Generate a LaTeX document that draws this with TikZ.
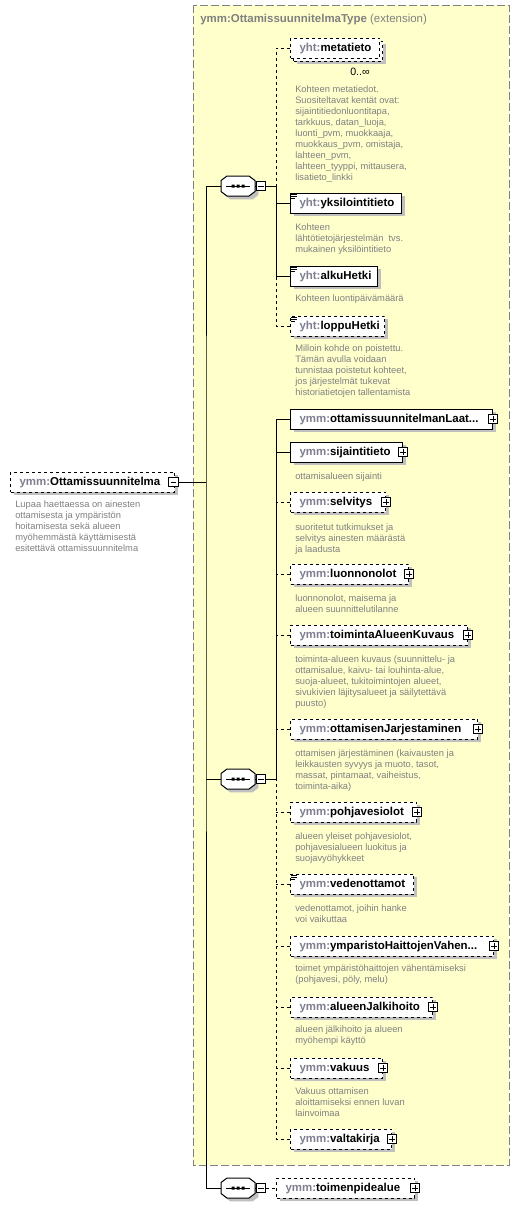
\documentclass[tikz,border=0pt]{standalone}
\usepackage{fontspec}
\setmainfont{Liberation Sans}
\definecolor{extfill}{HTML}{FFFFCC}
\definecolor{extborder}{HTML}{808080}
\definecolor{descgray}{HTML}{808080}
\definecolor{prefgray}{HTML}{7F7F90}
\definecolor{shadowgray}{HTML}{C0C0C0}
\newcommand\lblfont{\fontsize{8.6pt}{10pt}\selectfont\bfseries}
\newcommand\descfont{\fontsize{7pt}{8.25pt}\selectfont}
\newcommand\pfx[1]{\textcolor{prefgray}{#1:}}
\newcommand\desctext[1]{\parbox[t]{70mm}{\raggedright\descfont #1}}
\newcommand\eqicon[1]{\draw[line width=0.6pt] ([xshift=0.9pt,yshift=-1.3pt]#1.north west) -- ++(4.5pt,0) ([xshift=0.9pt,yshift=-2.8pt]#1.north west) -- ++(4.5pt,0) ([xshift=0.9pt,yshift=-4.3pt]#1.north west) -- ++(3pt,0);}
\newcommand\octpath{(-17,-5.5) -- (-11,-10) -- (11,-10) -- (17,-5.5) -- (17,5.5) -- (11,10) -- (-11,10) -- (-17,5.5) -- cycle}
\newcommand\seqshape[1]{%
  \fill[shadowgray, shift={(#1.center)}, xshift=2.6pt, yshift=-2.6pt] \octpath;
  \draw[line width=0.75pt, fill=white, shift={(#1.center)}] \octpath;
  \draw[line width=0.75pt, shift={(#1.center)}] (-12,0) -- (12,0);
  \fill[shift={(#1.center)}] (-6.5,-1.5) rectangle (-3.5,1.5) (-1.5,-1.5) rectangle (1.5,1.5) (3.5,-1.5) rectangle (6.5,1.5);}
\begin{document}
\begin{tikzpicture}[x=0.75pt,y=-0.75pt,
  shadowed/.style={preaction={fill=shadowgray, transform canvas={shift={(#1,-#1)}}}},
  shadowed/.default=2.6pt,
  elcore/.style={draw=black, fill=white, line width=0.75pt, anchor=west,
    minimum height=15pt, inner xsep=6.75pt, inner ysep=0pt, align=left,
    font=\lblfont, text height=6.5pt, text depth=1.5pt},
  reqel/.style={shadowed, elcore},
  optel/.style={shadowed, elcore, dash pattern=on 2.25pt off 2.25pt},
  metael/.style={shadowed=4.85pt,
    preaction={draw=black, fill=white, line width=0.75pt, dash pattern=on 2.25pt off 2.25pt, transform canvas={shift={(2.25pt,-2.25pt)}}},
    elcore, dash pattern=on 2.25pt off 2.25pt},
  descnode/.style={anchor=base west, inner sep=0pt, text=descgray},
  minusbox/.style={draw=black, fill=white, line width=0.75pt, minimum size=7.2pt, inner sep=0pt,
    path picture={\draw[line width=0.75pt] ([xshift=1.4pt]path picture bounding box.west) -- ([xshift=-1.4pt]path picture bounding box.east);}},
  plusbox/.style={draw=black, fill=white, line width=0.75pt, minimum size=7.2pt, inner sep=0pt,
    path picture={\draw[line width=0.75pt] ([xshift=1.4pt]path picture bounding box.west) -- ([xshift=-1.4pt]path picture bounding box.east)
      ([yshift=-1.4pt]path picture bounding box.north) -- ([yshift=1.4pt]path picture bounding box.south);}},
  seqnode/.style={minimum width=25.5pt, minimum height=15pt, inner sep=0pt},
  conn/.style={line width=0.75pt, draw=black},
  optconn/.style={conn, dash pattern=on 2.25pt off 2.25pt},
  extbox/.style={fill=extfill, draw=extborder, line width=0.75pt, dash pattern=on 6pt off 2.25pt}]
\useasboundingbox (0,0) rectangle (520,1208);
\fill[white] (0,0) rectangle (520,1208);
% extension area
\draw[extbox] (193,5) rectangle (509,1165);
\node[anchor=base west, inner sep=0pt, text=descgray, font=\fontsize{8.6pt}{10pt}\selectfont] (title) at (200,22.5) {\textbf{ymm:OttamissuunnitelmaType} (extension)};

% root
\node[optel, text width=109.5pt] (root) at (10,482) {\pfx{ymm}Ottamissuunnitelma};
\node[minusbox] (rootm) at (173.5,482) {};
\node[descnode] (rootd) at (15,507) {\desctext{Lupaa haettaessa on ainesten\\ottamisesta ja ympäristön\\hoitamisesta sekä alueen\\myöhemmästä käyttämisestä\\esitettävä ottamissuunnitelma}};
\coordinate (rootbus) at (206,482);

% sequences
\node[seqnode] (s1) at (238,186) {};
\seqshape{s1}
\node[minusbox] (s1m) at (261,186) {};
\coordinate (s1bus) at (276,186);
\node[seqnode] (s2) at (238,779) {};
\seqshape{s2}
\node[minusbox] (s2m) at (261,779) {};
\coordinate (s2bus) at (276,779);
\node[seqnode] (s3) at (238,1188) {};
\seqshape{s3}
\node[minusbox] (s3m) at (261,1188) {};

% sequence 1 children
\node[metael, text width=53.25pt] (meta) at (290,48) {\pfx{yht}metatieto};
\node[anchor=base, inner sep=0pt, font=\fontsize{8pt}{9pt}\selectfont] (metacard) at (360,75) {0..∞};
\node[descnode] (metad) at (295,92) {\desctext{Kohteen metatiedot.\\Suositeltavat kentät ovat:\\sijaintitiedonluontitapa,\\tarkkuus, datan\_luoja,\\luonti\_pvm, muokkaaja,\\muokkaus\_pvm, omistaja,\\lahteen\_pvm,\\lahteen\_tyyppi, mittausera,\\lisatieto\_linkki}};

\node[reqel, text width=69.75pt] (yksi) at (290,203) {\pfx{yht}yksilointitieto};
\eqicon{yksi}
\node[descnode] (yksid) at (295,230) {\desctext{Kohteen\\lähtötietojärjestelmän~~tvs.\\mukainen yksilöintitieto}};

\node[reqel, text width=51.75pt] (alku) at (290,276) {\pfx{yht}alkuHetki};
\eqicon{alku}
\node[descnode] (alkud) at (295,301) {\desctext{Kohteen luontipäivämäärä}};

\node[optel, text width=57pt] (loppu) at (290,326) {\pfx{yht}loppuHetki};
\eqicon{loppu}
\node[descnode] (loppud) at (295,351) {\desctext{Milloin kohde on poistettu.\\Tämän avulla voidaan\\tunnistaa poistetut kohteet,\\jos järjestelmät tukevat\\historiatietojen tallentamista}};

% sequence 2 children
\node[reqel, text width=138pt] (laat) at (290,419) {\pfx{ymm}ottamissuunnitelmanLaat...};
\node[plusbox] (laatp) at (laat.east) {};

\node[reqel, text width=70.5pt] (sij) at (290,452) {\pfx{ymm}sijaintitieto};
\node[plusbox] (sijp) at (sij.east) {};
\node[descnode] (sijd) at (295,479) {\desctext{ottamisalueen sijainti}};

\node[optel, text width=57.75pt] (selv) at (290,502) {\pfx{ymm}selvitys};
\node[plusbox] (selvp) at (selv.east) {};
\node[descnode] (selvd) at (295,530) {\desctext{suoritetut tutkimukset ja\\selvitys ainesten määrästä\\ja laadusta}};

\node[optel, text width=75pt] (luon) at (290,574) {\pfx{ymm}luonnonolot};
\node[plusbox] (luonp) at (luon.east) {};
\node[descnode] (luond) at (295,601) {\desctext{luonnonolot, maisema ja\\alueen suunnittelutilanne}};

\node[optel, text width=119.25pt] (toim) at (290,635) {\pfx{ymm}toimintaAlueenKuvaus};
\node[plusbox] (toimp) at (toim.east) {};
\node[descnode] (toimd) at (295,662) {\desctext{toiminta-alueen kuvaus (suunnittelu- ja\\ottamisalue, kaivu- tai louhinta-alue,\\suoja-alueet, tukitoimintojen alueet,\\sivukivien läjitysalueet ja säilytettävä\\puusto)}};

\node[optel, text width=126.75pt] (ottj) at (290,729) {\pfx{ymm}ottamisenJarjestaminen};
\node[plusbox] (ottjp) at (ottj.east) {};
\node[descnode] (ottjd) at (295,756) {\desctext{ottamisen järjestäminen (kaivausten ja\\leikkausten syvyys ja muoto, tasot,\\massat, pintamaat, vaiheistus,\\toiminta-aika)}};

\node[optel, text width=81pt] (pohj) at (290,812) {\pfx{ymm}pohjavesiolot};
\node[plusbox] (pohjp) at (pohj.east) {};
\node[descnode] (pohjd) at (295,839) {\desctext{alueen yleiset pohjavesiolot,\\pohjavesialueen luokitus ja\\suojavyöhykkeet}};

\node[optel, text width=78.75pt] (veden) at (290,884) {\pfx{ymm}vedenottamot};
\eqicon{veden}
\node[descnode] (vedend) at (295,911) {\desctext{vedenottamot, joihin hanke\\voi vaikuttaa}};

\node[optel, text width=138.75pt] (ymp) at (290,946) {\pfx{ymm}ymparistoHaittojenVahen...};
\node[plusbox] (ympp) at (ymp.east) {};
\node[descnode] (ympd) at (295,971) {\desctext{toimet ympäristöhaittojen vähentämiseksi\\(pohjavesi, pöly, melu)}};

\node[optel, text width=93pt] (alueen) at (290,1007) {\pfx{ymm}alueenJalkihoito};
\node[plusbox] (alueenp) at (alueen.east) {};
\node[descnode] (alueend) at (295,1032) {\desctext{alueen jälkihoito ja alueen\\myöhempi käyttö}};

\node[optel, text width=55.5pt] (vak) at (290,1068) {\pfx{ymm}vakuus};
\node[plusbox] (vakp) at (vak.east) {};
\node[descnode] (vakd) at (295,1094) {\desctext{Vakuus ottamisen\\aloittamiseksi ennen luvan\\lainvoimaa}};

\node[optel, text width=62.25pt] (valt) at (290,1139) {\pfx{ymm}valtakirja};
\node[plusbox] (valtp) at (valt.east) {};

% sequence 3 child
\node[optel, text width=90pt] (toimpa) at (276,1188) {\pfx{ymm}toimenpidealue};
\node[plusbox] (toimpap) at (toimpa.east) {};

% connectors: root
\draw[conn] (rootm.east) -- (rootbus);
\draw[conn] (s1.west) -| (rootbus) |- (s3.west);
\draw[conn] (s2.west) -- (s2.west -| rootbus);
% sequence 1
\draw[conn] (s1.east) -- (s1m.west);
\draw[conn] (s1m.east) -- (s1bus);
\draw[optconn] (meta.west) -| (s1bus);
\draw[conn] (alku.west) -| (s1bus);
\draw[conn] (yksi.west) -- (yksi.west -| s1bus);
\draw[optconn] (loppu.west) -| (alku.west -| s1bus);
% sequence 2
\draw[conn] (s2.east) -- (s2m.west);
\draw[conn] (s2m.east) -- (s2bus);
\draw[conn] (laat.west) -| (s2bus);
\draw[conn] (sij.west) -- (sij.west -| s2bus);
\draw[optconn] (selv.west) -- (selv.west -| s2bus);
\draw[optconn] (luon.west) -- (luon.west -| s2bus);
\draw[optconn] (toim.west) -- (toim.west -| s2bus);
\draw[optconn] (ottj.west) -- (ottj.west -| s2bus);
\draw[optconn] (valt.west) -| (s2bus);
\draw[optconn] (pohj.west) -- (pohj.west -| s2bus);
\draw[optconn] (veden.west) -- (veden.west -| s2bus);
\draw[optconn] (ymp.west) -- (ymp.west -| s2bus);
\draw[optconn] (alueen.west) -- (alueen.west -| s2bus);
\draw[optconn] (vak.west) -- (vak.west -| s2bus);
% sequence 3
\draw[conn] (s3.east) -- (s3m.west);
\draw[optconn] (s3m.east) -- (toimpa.west);
\end{tikzpicture}
\end{document}
